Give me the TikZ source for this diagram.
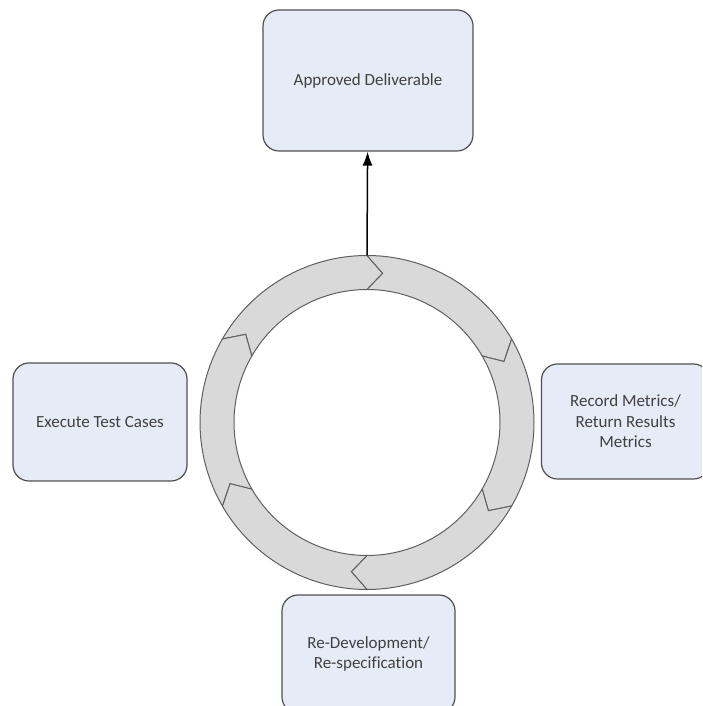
\documentclass[tikz,border=0pt]{standalone}
\usepackage{fontspec}
\setmainfont{Carlito}[Ligatures=NoCommon]
\usetikzlibrary{arrows.meta}
\definecolor{boxfill}{HTML}{E6ECF7}
\definecolor{boxline}{HTML}{505050}
\definecolor{ringfill}{HTML}{D9D9D9}
\definecolor{ringline}{HTML}{606060}
\definecolor{txt}{HTML}{404040}

\begin{document}
\begin{tikzpicture}
  [x=1pt,y=1pt,
   phase/.style={draw=boxline,line width=1.2pt,fill=boxfill,rounded corners=16pt,
     align=center,text=txt,font=\fontsize{17}{20.5}\selectfont,inner sep=0pt},
   ringpart/.style={fill=ringfill,draw=ringline,line width=1pt}]
  \clip (0,0) rectangle (702,706);
  \node[phase,minimum width=210,minimum height=141] (deliv) at (368,625.5) {Approved Deliverable};
  \node[phase,minimum width=174,minimum height=118] (exec) at (100,284) {Execute Test Cases};
  \node[phase,minimum width=168,minimum height=115] (record) at (625.5,284.5) {Record Metrics/\\Return Results\\Metrics};
  \node[phase,minimum width=173,minimum height=118] (redev) at (368.5,52) {Re-Development/\\Re-specification};

  % ring of arrows
  \coordinate (hub) at (367,283.5);
  \begin{scope}[shift={(hub)}]
    \foreach \a in {150,90,30,-30,-90,-150}
      \draw[ringpart] (\a:167) arc[start angle=\a,end angle=\a-60,radius=167]
        -- (\a-66:150) -- (\a-60:133) arc[start angle=\a-60,end angle=\a,radius=133]
        -- (\a-6:150) -- cycle;
    \coordinate (ringtop) at (90:167);
  \end{scope}

  \draw[line width=1.5pt,-{Latex[length=14pt,width=10pt]}] (ringtop) -- (deliv);
\end{tikzpicture}
\end{document}
